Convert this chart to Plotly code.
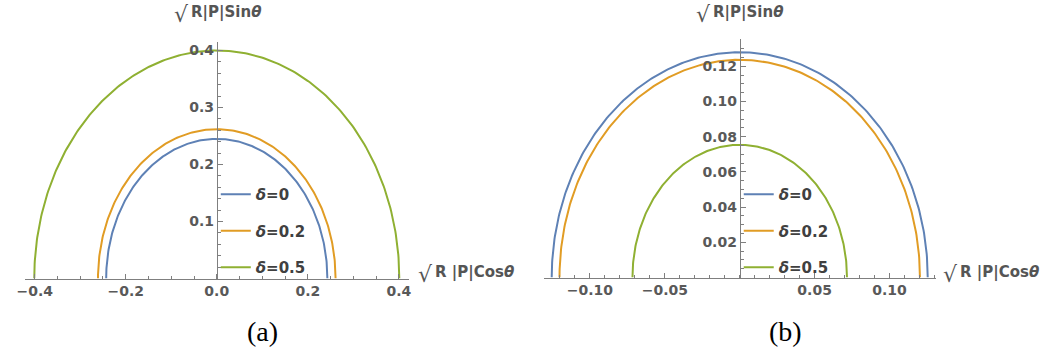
import numpy as np
import plotly.graph_objects as go

W, H = 1046, 356

# ---- data -------------------------------------------------------------
delta_names = ["0", "0.2", "0.5"]
colors = ["#5E81B5", "#E19C24", "#8FB032"]

# panel (a): half-width on the Cos axis and height on the Sin axis of each arc
half_width_a = [0.243, 0.261, 0.401]
height_a = [0.245, 0.262, 0.400]

# panel (b)
half_width_b = [0.1255, 0.1203, 0.0716]
height_b = [0.1280, 0.1237, 0.0754]

xticks_a = [-0.4, -0.2, 0.0, 0.2, 0.4]
yticks_a = [0.1, 0.2, 0.3, 0.4]
xticks_b = [-0.10, -0.05, 0.05, 0.10]
yticks_b = [0.02, 0.04, 0.06, 0.08, 0.10, 0.12]


def px_x(p):
    return p / W


def px_y(p):
    return 1 - p / H


def fmt(v, nd):
    s = f"{abs(v):.{nd}f}"
    return ("\u2212" + s) if v < 0 else s


theta = np.linspace(0, np.pi, 241)

fig = go.Figure()

for panel, (hw, ht, xa, ya, lg) in enumerate(
    [(half_width_a, height_a, "x", "y", "legend"),
     (half_width_b, height_b, "x2", "y2", "legend2")]
):
    for i, name in enumerate(delta_names):
        fig.add_trace(go.Scatter(
            x=hw[i] * np.cos(theta),
            y=ht[i] * np.sin(theta),
            mode="lines",
            line=dict(color=colors[i], width=2),
            name=f"<b><i>δ</i>=" + name + "</b>",
            legendgroup=f"{lg}{i}",
            legend=lg,
            xaxis=xa, yaxis=ya,
            hoverinfo="skip",
        ))

axis_color = "#7f7f7f"
tick_font = dict(family="DejaVu Sans", size=14, color="#595959", weight="bold")


def xaxis(domain, rng, tickvals, nd, minor_dtick, anchor):
    return dict(
        domain=domain, range=rng, anchor=anchor,
        showgrid=False, zeroline=False,
        showline=True, linecolor=axis_color, linewidth=1,
        ticks="inside", ticklen=5, tickwidth=1, tickcolor=axis_color,
        tickmode="array", tickvals=tickvals,
        ticktext=[fmt(v, nd) for v in tickvals],
        tickfont=tick_font,
        minor=dict(ticks="inside", ticklen=3, tickcolor=axis_color,
                   tickmode="linear", tick0=0, dtick=minor_dtick),
    )


def yaxis(domain, rng, tickvals, nd, minor_dtick, pos):
    return dict(
        domain=domain, range=rng, anchor="free", position=pos,
        showgrid=False, zeroline=False,
        showline=True, linecolor=axis_color, linewidth=1,
        ticks="inside", ticklen=5, tickwidth=1, tickcolor=axis_color,
        tickmode="array", tickvals=tickvals,
        ticktext=[fmt(v, nd) for v in tickvals],
        tickfont=tick_font,
        minor=dict(ticks="inside", ticklen=3, tickcolor=axis_color,
                   tickmode="linear", tick0=0, dtick=minor_dtick),
    )


# panel (a): origin at (211, 278.5) px, 460 px per unit across, 570 px per unit up
xa0, ya0 = 211.0, 278.5
xs_a, ys_a = 460.0, 570.0
xa_dom = [px_x(17), px_x(405)]
xa_rng = [(17 - xa0) / xs_a, (405 - xa0) / xs_a]
ya_dom = [px_y(ya0), px_y(42)]
ya_rng = [0, (ya0 - 42) / ys_a]

# panel (b): origin at (739.5, 277.5) px
xb0, yb0 = 739.5, 277.5
xs_b, ys_b = 1514.0, 1760.0
xb_dom = [px_x(542), px_x(938)]
xb_rng = [(542 - xb0) / xs_b, (938 - xb0) / xs_b]
yb_dom = [px_y(yb0), px_y(39)]
yb_rng = [0, (yb0 - 39) / ys_b]

legend_font = dict(family="DejaVu Sans", size=15, color="#404040")

fig.update_layout(
    width=W, height=H,
    margin=dict(l=0, r=0, t=0, b=0),
    paper_bgcolor="white", plot_bgcolor="rgba(0,0,0,0)",
    xaxis=xaxis(xa_dom, xa_rng, xticks_a, 1, 0.05, "y"),
    yaxis=yaxis(ya_dom, ya_rng, yticks_a, 1, 0.02, px_x(xa0)),
    xaxis2=xaxis(xb_dom, xb_rng, xticks_b, 2, 0.01, "y2"),
    yaxis2=yaxis(yb_dom, yb_rng, yticks_b, 2, 0.005, px_x(xb0)),
    legend=dict(x=px_x(xa0 - 1), y=px_y(178), xanchor="left", yanchor="top",
                bgcolor="rgba(0,0,0,0)", font=legend_font,
                tracegroupgap=14, itemwidth=30),
    legend2=dict(x=px_x(xb0 - 1), y=px_y(178), xanchor="left", yanchor="top",
                 bgcolor="rgba(0,0,0,0)", font=legend_font,
                 tracegroupgap=14, itemwidth=30),
    showlegend=True,
)

title_font = dict(family="DejaVu Sans", size=15, color="#555555", weight="bold")
root_font = dict(family="DejaVu Sans", size=22, color="#555555")
annotations = []


def axis_title(text, root_x, text_x, top_y):
    annotations.append(dict(
        xref="paper", yref="paper", x=px_x(root_x), y=px_y(top_y),
        xanchor="right", yanchor="top", text="√", showarrow=False,
        font=root_font))
    annotations.append(dict(
        xref="paper", yref="paper", x=px_x(text_x), y=px_y(top_y + 1),
        xanchor="left", yanchor="top", text=text, showarrow=False,
        font=title_font))


axis_title("R|P|Sin<i>θ</i>", 185, 183, 0)
axis_title("R|P|Sin<i>θ</i>", 712, 710, 0)
axis_title("R |P|Cos<i>θ</i>", 432, 430, 260)
axis_title("R |P|Cos<i>θ</i>", 962, 960, 260)

for label, cx in [("(a)", 257), ("(b)", 786)]:
    annotations.append(dict(
        xref="paper", yref="paper", x=px_x(cx), y=px_y(331),
        xanchor="center", yanchor="middle", text=label, showarrow=False,
        font=dict(family="Liberation Serif", size=28, color="black")))

fig.update_layout(annotations=annotations)

fig.write_html("out.html")
